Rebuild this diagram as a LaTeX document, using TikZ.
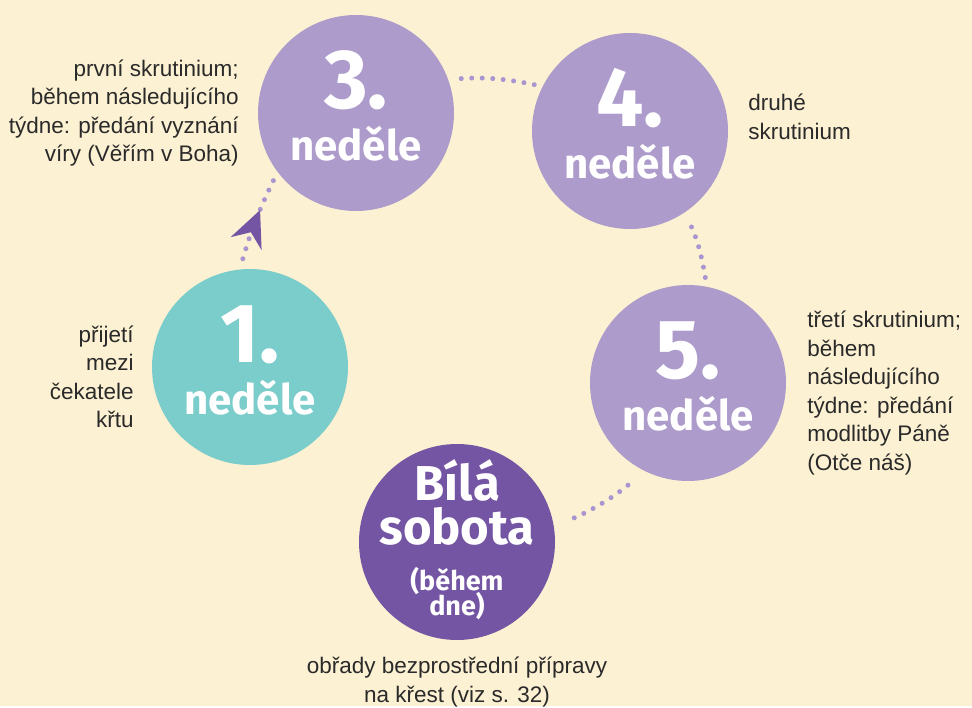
\documentclass[tikz,border=0pt]{standalone}
\usepackage{fontspec}
\setmainfont{Liberation Sans}
\newfontfamily\wkfont{Fira Sans}
\usetikzlibrary{arrows.meta, positioning, decorations.markings}
\definecolor{katbg}{HTML}{FDF1D3}
\definecolor{katteal}{HTML}{7BCDCB}
\definecolor{katlilac}{HTML}{AD9CCB}
\definecolor{katviolet}{HTML}{7455A3}
\definecolor{katdot}{HTML}{A995D0}
\definecolor{kattext}{HTML}{2A2A2A}

\begin{document}
\begin{tikzpicture}[x=1pt, y=-1pt,
  wk/.style={circle, minimum size=196pt, inner sep=0pt},
  wktext/.style={text=white, align=center, inner sep=0pt,
                 font=\wkfont\bfseries\fontsize{42}{52}\selectfont},
  note/.style={text=kattext, inner sep=0pt, font=\fontsize{22.5}{28.5}\selectfont},
  link/.style={draw=katdot, line width=5pt, line cap=round,
               dash pattern=on 0pt off 10.5pt}]
  \fill[katbg] (0,0) rectangle (972,706);
  \node[wk, fill=katteal] (c1) at (250,367) {};
  \node[wk, fill=katlilac] (c3) at (356,113) {};
  \node[wk, fill=katlilac] (c4) at (630,131) {};
  \node[wk, fill=katlilac] (c5) at (688,383) {};
  \node[wk, fill=katviolet] (cB) at (457,542) {};
  \node[wktext] (n1) at ([yshift=7pt]c1) {{\fontsize{84}{52}\selectfont 1.}\\neděle};
  \node[wktext] (n3) at ([yshift=7pt]c3) {{\fontsize{84}{52}\selectfont 3.}\\neděle};
  \node[wktext] (n4) at ([yshift=7pt]c4) {{\fontsize{84}{52}\selectfont 4.}\\neděle};
  \node[wktext] (n5) at ([yshift=7pt]c5) {{\fontsize{84}{52}\selectfont 5.}\\neděle};
  \node[wktext, font=\wkfont\bfseries\fontsize{49}{42}\selectfont] (nB) at ([yshift=2pt]cB)
       {Bílá\\[2pt]sobota\\[4pt]{\fontsize{27}{42}\selectfont (během}\\[-17pt]{\fontsize{27}{42}\selectfont dne)}};
  \node[note, align=right, left=19pt of c3] (t3)
       {první skrutinium;\\během následujícího\\týdne: předání vyznání\\víry (Věřím v Boha)};
  \node[note, align=left, right=20pt of c4, yshift=14pt] (t4) {druhé\\skrutinium};
  \node[note, align=left, right=21pt of c5, yshift=-10pt] (t5)
       {třetí skrutinium;\\během\\následujícího\\týdne: předání\\modlitby Páně\\(Otče náš)};
  \node[note, align=right, left=18pt of c1, yshift=-10pt] (t1) {přijetí\\mezi\\čekatele\\křtu};
  \node[note, align=center, below=17pt of cB] (tB) {obřady bezprostřední přípravy\\na křest (viz s. 32)};
  \draw[link, shorten <=11pt, shorten >=5pt, postaction={decorate},
        decoration={markings, mark=at position 0.6 with
          {\arrow[katviolet]{Stealth[length=36pt, width=33pt, inset=12pt]}}}]
    (c1.96) to[bend left=5] (c3.217);
  \draw[link, shorten <=13pt, shorten >=2pt] (c3.20) to[bend left=8] (c4.153);
  \draw[link, shorten <=16pt, shorten >=0pt] (c4.-56) to[bend left=8] (c5.79);
  \draw[link, shorten <=22pt, shorten >=20pt] (c5.-116) to[bend left=8] (cB.9);
\end{tikzpicture}
\end{document}
